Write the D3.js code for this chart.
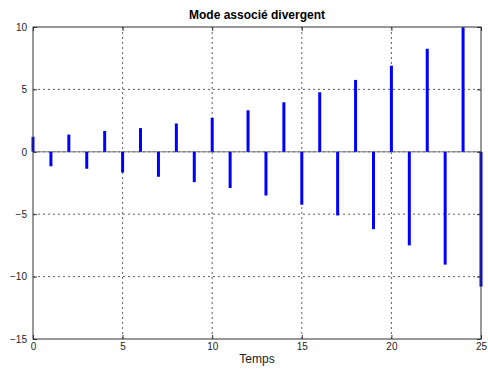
<!DOCTYPE html>
<html>
<head>
<meta charset="utf-8">
<script src="https://cdn.jsdelivr.net/npm/d3@7"></script>
<style>
  body { margin: 0; background: #fff; }
  svg { display: block; font-family: "Liberation Sans", Arial, sans-serif; }
</style>
</head>
<body>
<div id="chart"></div>
<script>
// données
const temps = d3.range(0, 26);
const valeurs = [1.2, -1.16, 1.38, -1.36, 1.67, -1.66, 1.9, -2.0, 2.27, -2.43,
  2.72, -2.9, 3.33, -3.5, 3.97, -4.24, 4.77, -5.1, 5.76, -6.2,
  6.9, -7.5, 8.26, -9.04, 9.98, -10.8];
const xTicks = [0, 5, 10, 15, 20, 25];
const yTicks = [-15, -10, -5, 0, 5, 10];

const width = 488, height = 371;
const margin = { top: 27, right: 7, bottom: 32, left: 33 };
const iw = width - margin.left - margin.right;
const ih = height - margin.top - margin.bottom;

const svg = d3.select('#chart').append('svg')
  .attr('width', width).attr('height', height);

const x = d3.scaleLinear().domain([0, 25]).range([0, iw]);
const y = d3.scaleLinear().domain([-15, 10]).range([ih, 0]);

const g = svg.append('g').attr('transform', `translate(${margin.left},${margin.top})`);

// Grille
g.append('g').selectAll('line').data(xTicks.slice(1, -1)).join('line')
  .attr('x1', d => x(d)).attr('x2', d => x(d))
  .attr('y1', 0).attr('y2', ih)
  .attr('stroke', '#333').attr('stroke-width', 0.8).attr('stroke-dasharray', '2 3');
g.append('g').selectAll('line').data(yTicks.slice(1, -1)).join('line')
  .attr('x1', 0).attr('x2', iw)
  .attr('y1', d => y(d)).attr('y2', d => y(d))
  .attr('stroke', '#333').attr('stroke-width', 0.8).attr('stroke-dasharray', '2 3');

// Ligne de base
g.append('line')
  .attr('x1', 0).attr('x2', iw).attr('y1', y(0)).attr('y2', y(0))
  .attr('stroke', '#777').attr('stroke-width', 1);

// Tiges
g.append('g').selectAll('line').data(valeurs).join('line')
  .attr('x1', (d, i) => x(temps[i])).attr('x2', (d, i) => x(temps[i]))
  .attr('y1', y(0)).attr('y2', d => y(Math.max(-15, Math.min(10, d))))
  .attr('stroke', '#0000ff').attr('stroke-width', 3);

// Axes
const xAxis = d3.axisBottom(x).tickValues(xTicks).tickSize(-4).tickPadding(6);
const yAxis = d3.axisLeft(y).tickValues(yTicks).tickSize(-4).tickPadding(6);
const xa = g.append('g').attr('transform', `translate(0,${ih})`).call(xAxis);
const ya = g.append('g').call(yAxis);
const xt = g.append('g').call(d3.axisTop(x).tickValues(xTicks).tickSize(-4).tickFormat(''));
const yr = g.append('g').attr('transform', `translate(${iw},0)`)
  .call(d3.axisRight(y).tickValues(yTicks).tickSize(-4).tickFormat(''));
[xa, ya, xt, yr].forEach(a => {
  a.select('.domain').remove();
  a.selectAll('line').attr('stroke', '#333');
  a.selectAll('text').attr('font-size', 10).attr('fill', '#222')
    .attr('font-family', '"Liberation Sans", Arial, sans-serif');
});
xa.selectAll('text').attr('dy', '0.5em');

// Cadre
g.append('rect').attr('width', iw).attr('height', ih)
  .attr('fill', 'none').attr('stroke', '#333').attr('stroke-width', 1);

// Titres
svg.append('text')
  .attr('x', margin.left + iw / 2).attr('y', 19)
  .attr('text-anchor', 'middle').attr('font-size', 12).attr('font-weight', 'bold')
  .text('Mode associé divergent');
svg.append('text')
  .attr('x', margin.left + iw / 2).attr('y', 363)
  .attr('text-anchor', 'middle').attr('font-size', 12).attr('fill', '#222')
  .text('Temps');
</script>
</body>
</html>
